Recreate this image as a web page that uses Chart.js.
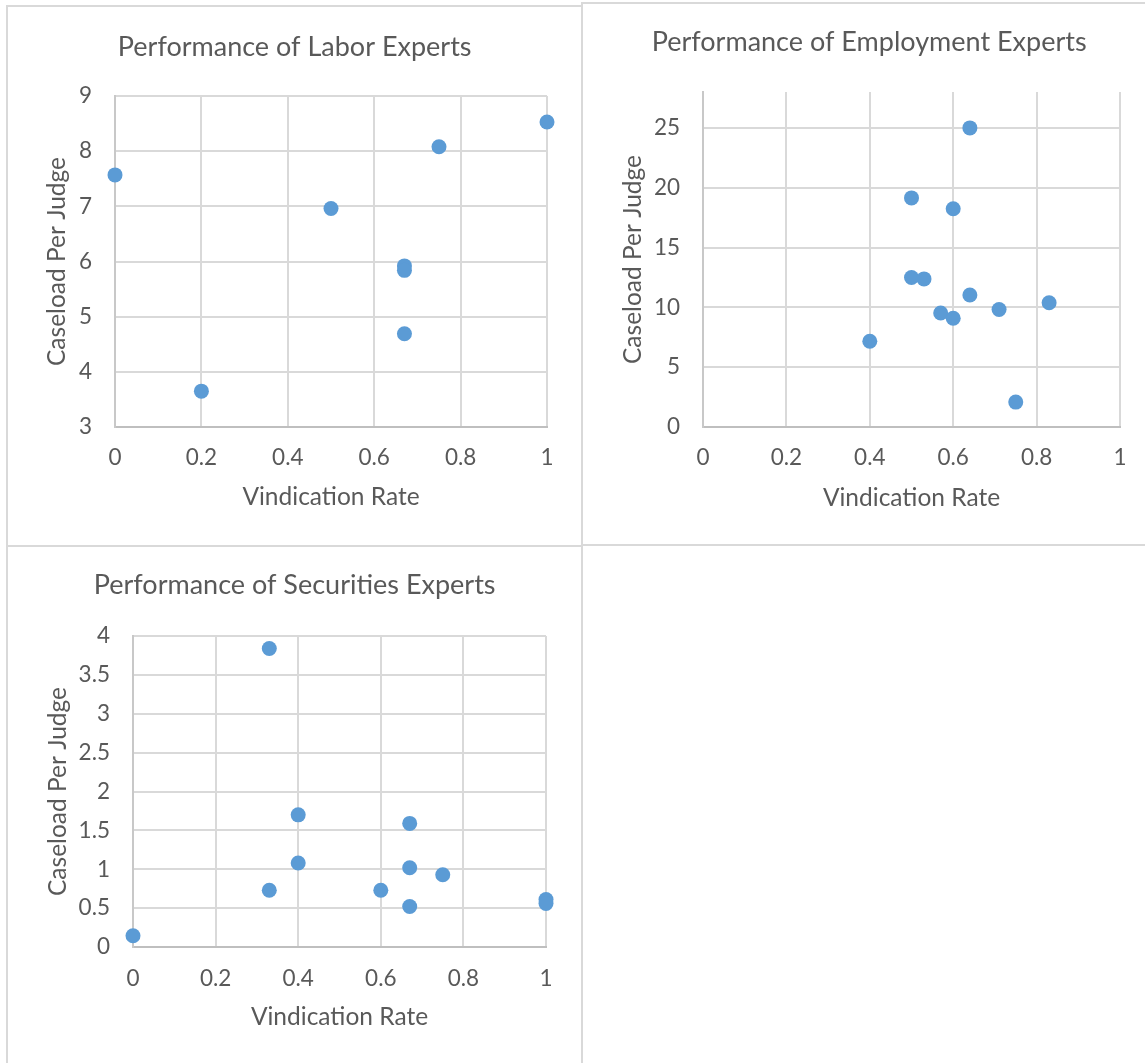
<!DOCTYPE html>
<html>
<head>
<meta charset="utf-8">
<script src="https://cdn.jsdelivr.net/npm/chart.js@4.4.1/dist/chart.umd.min.js"></script>
<style>
  body { margin: 0; background: #fff; width: 1145px; height: 1063px; overflow: hidden; position: relative; }
  .panel { position: absolute; border: 2px solid #d9d9d9; box-sizing: border-box; }
  canvas { position: absolute; }
</style>
</head>
<body>
<div class="panel" style="left:6px;top:5px;width:577px;height:542px"></div>
<div class="panel" style="left:581px;top:2px;width:580px;height:544px"></div>
<div class="panel" style="left:6px;top:545px;width:577px;height:530px"></div>

<canvas id="labor" width="572" height="537" style="left:8px;top:7px"></canvas>
<canvas id="employment" width="562" height="540" style="left:583px;top:4px"></canvas>
<canvas id="securities" width="572" height="516" style="left:8px;top:547px"></canvas>

<script>
// values
var laborRate = [0, 0.2, 0.5, 0.67, 0.67, 0.67, 0.75, 1];
var laborCaseload = [7.57, 3.65, 6.96, 5.92, 5.84, 4.69, 8.08, 8.53];

var employmentRate = [0.64, 0.5, 0.6, 0.5, 0.53, 0.64, 0.57, 0.6, 0.71, 0.83, 0.4, 0.75];
var employmentCaseload = [25.0, 19.15, 18.24, 12.5, 12.38, 11.03, 9.53, 9.09, 9.82, 10.38, 7.17, 2.08];

var securitiesRate = [0.33, 0.4, 0.67, 0.4, 0.67, 0.75, 0.33, 0.6, 0.67, 1, 1, 0];
var securitiesCaseload = [3.84, 1.70, 1.59, 1.08, 1.02, 0.93, 0.73, 0.73, 0.52, 0.61, 0.56, 0.145];

var xTicks = [0, 0.2, 0.4, 0.6, 0.8, 1];

var textColor = "#595959";
var gridColor = "#d9d9d9";
var fontName = "Lato";

function toPoints(xs, ys) {
  return xs.map(function (x, i) {
    return { x: x, y: ys[i] };
  });
}

function fmt(v) {
  return String(+v.toFixed(2));
}

function makeChart(id, title, xs, ys, g) {
  var ctx = document.getElementById(id).getContext("2d");
  return new Chart(ctx, {
    type: "scatter",
    data: {
      datasets: [
        {
          data: toPoints(xs, ys),
          backgroundColor: "#5b9bd5",
          borderColor: "#5b9bd5",
          borderWidth: 0,
          pointRadius: 7.5,
          pointHoverRadius: 7.5,
          clip: false,
        },
      ],
    },
    options: {
      responsive: false,
      animation: false,
      layout: {
        padding: { left: g.pl, right: g.pr, top: 0, bottom: g.pb },
      },
      plugins: {
        legend: { display: false },
        tooltip: { enabled: false },
        title: {
          display: true,
          text: title,
          color: textColor,
          font: { family: fontName, size: 27, weight: "normal" },
          padding: { top: g.tt, bottom: g.tb },
        },
      },
      scales: {
        x: {
          type: "linear",
          min: 0,
          max: 1,
          afterBuildTicks: function (scale) {
            scale.ticks = xTicks.map(function (v) { return { value: v }; });
          },
          afterFit: function (scale) {
            scale.height = g.xh;
          },
          ticks: {
            color: textColor,
            font: { family: fontName, size: 22.5 },
            padding: g.xtp,
            callback: fmt,
          },
          grid: { color: gridColor, lineWidth: 2, drawTicks: false },
          border: { color: "#bfbfbf", width: 2 },
          title: {
            display: true,
            text: "Vindication Rate",
            color: textColor,
            font: { family: fontName, size: 24.5 },
            padding: 0,
          },
        },
        y: {
          type: "linear",
          min: g.ymin,
          max: g.ymax,
          afterBuildTicks: function (scale) {
            var t = [];
            for (var v = g.ymin; v <= g.ymax + 1e-9; v += g.ystep) {
              t.push({ value: +v.toFixed(4) });
            }
            scale.ticks = t;
          },
          afterFit: function (scale) {
            scale.width = g.yw;
          },
          ticks: {
            color: textColor,
            font: { family: fontName, size: 22.5 },
            padding: 23,
            callback: fmt,
          },
          grid: { color: gridColor, lineWidth: 2, drawTicks: false },
          border: { color: "#c8c8c8", width: 2 },
          title: {
            display: true,
            text: "Caseload Per Judge",
            color: textColor,
            font: { family: fontName, size: 24.5 },
            padding: 0,
          },
        },
      },
    },
  });
}

makeChart("labor", "Performance of Labor Experts", laborRate, laborCaseload, {
  pl: 34.3, pr: 33, pb: 32.3, tt: 23.8, tb: 32.8,
  xh: 84.7, xtp: 17.5, yw: 72.7, ymin: 3, ymax: 9, ystep: 1,
});

makeChart("employment", "Performance of Employment Experts", employmentRate, employmentCaseload, {
  pl: 35.3, pr: 25, pb: 31.3, tt: 21.8, tb: 33.8,
  xh: 85.7, xtp: 17.5, yw: 84.7, ymin: 0, ymax: 28, ystep: 5,
});

makeChart("securities", "Performance of Securities Experts", securitiesRate, securitiesCaseload, {
  pl: 35.3, pr: 34, pb: 31.3, tt: 21.8, tb: 34.8,
  xh: 84.7, xtp: 18.5, yw: 89.7, ymin: 0, ymax: 4, ystep: 0.5,
});
</script>
</body>
</html>
